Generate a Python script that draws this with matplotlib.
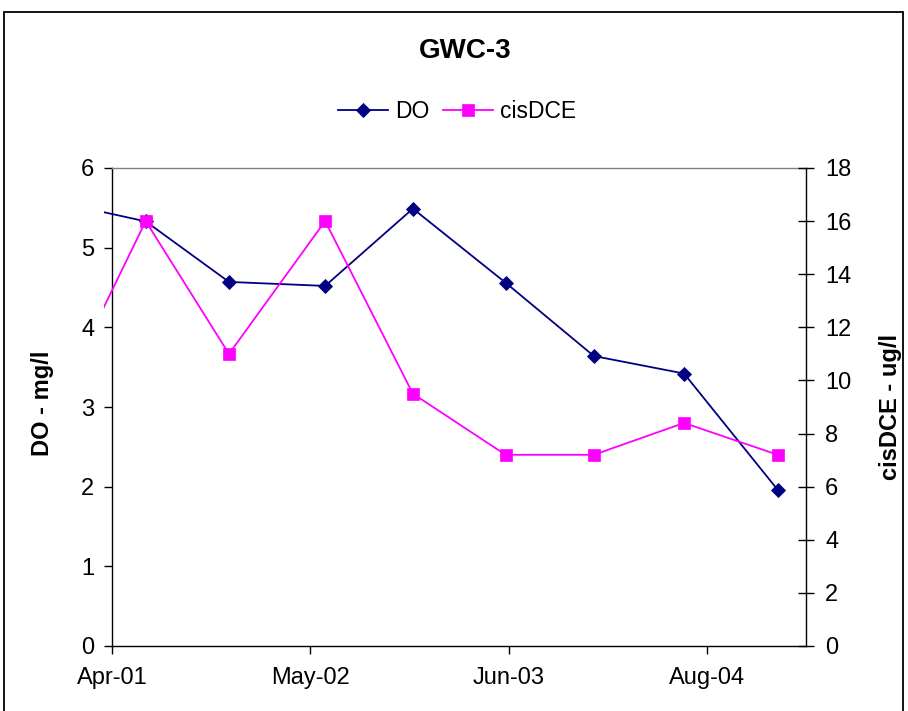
import matplotlib
matplotlib.use("Agg")
import matplotlib.pyplot as plt
import matplotlib.dates as mdates
from matplotlib.transforms import Bbox, TransformedBbox
from matplotlib.patches import Rectangle
from datetime import datetime

plt.rcParams['font.family'] = ['Liberation Sans', 'DejaVu Sans']

# ---- data ----
dates = ["2000-12-10", "2001-06-26", "2001-12-11", "2002-06-23", "2002-12-17",
         "2003-06-22", "2003-12-17", "2004-06-16", "2004-12-22"]
do_vals = [5.60, 5.33, 4.57, 4.52, 5.49, 4.56, 3.64, 3.42, 1.96]
cis_vals = [8.4, 16.0, 11.0, 16.0, 9.5, 7.2, 7.2, 8.4, 7.2]

x_min, x_max = "2001-04-19", "2005-02-17"
x_ticks = ["2001-04-19", "2002-05-24", "2003-06-28", "2004-08-01"]
y_left_ticks = [0, 1, 2, 3, 4, 5, 6]
y_right_ticks = [0, 2, 4, 6, 8, 10, 12, 14, 16, 18]

title = "GWC-3"
left_label = "DO - mg/l"
right_label = "cisDCE - ug/l"

to_dt = lambda s: datetime.strptime(s, "%Y-%m-%d")
xd = [to_dt(d) for d in dates]

W, H = 908, 711
fig = plt.figure(figsize=(W / 100, H / 100), dpi=100)
ax = fig.add_axes([112 / W, 1 - 646 / H, (806 - 112) / W, (646 - 168) / H])
ax2 = ax.twinx()

clip = TransformedBbox(Bbox.from_extents(-0.011, -0.01, 1.0, 1.01), ax.transAxes)

l1, = ax.plot(xd, do_vals, color='#000080', lw=1.3, marker='D', markersize=7.2,
              markeredgewidth=0.6, markerfacecolor='#000080', markeredgecolor='#000080',
              label='DO')
l1.set_clip_box(clip)
l2, = ax2.plot(xd, cis_vals, color='#FF00FF', lw=1.3, marker='s', markersize=8.2,
               markeredgewidth=0.5, markerfacecolor='#FF00FF', markeredgecolor='#FF00FF',
               label='cisDCE')
l2.set_clip_box(TransformedBbox(Bbox.from_extents(-0.011, -0.01, 1.0, 1.01), ax2.transAxes))

ax.set_xlim(to_dt(x_min), to_dt(x_max))
ax.set_xticks([to_dt(t) for t in x_ticks])
ax.xaxis.set_major_formatter(mdates.DateFormatter('%b-%y'))
ax.set_ylim(0, 6)
ax.set_yticks(y_left_ticks)
ax2.set_ylim(0, 18)
ax2.set_yticks(y_right_ticks)

for a in (ax, ax2):
    for s in a.spines.values():
        s.set_linewidth(1.0)
ax.spines['top'].set_color('#808080')
ax.spines['right'].set_visible(False)
ax2.spines['top'].set_visible(False)
ax2.spines['left'].set_visible(False)
ax2.spines['bottom'].set_visible(False)
ax2.spines['right'].set_color('black')

ax.tick_params(axis='y', direction='out', length=5.8, width=1, pad=7, labelsize=17)
ax.tick_params(axis='x', direction='out', length=5.8, width=1, pad=9.5, labelsize=17)
ax2.tick_params(axis='y', direction='inout', length=11.5, width=1, pad=8, labelsize=17)

ax.set_ylabel(left_label, fontsize=17, fontweight='bold')
ax.yaxis.set_label_coords((54 - 112) / 694, 0.508)
ax2.set_ylabel(right_label, fontsize=17, fontweight='bold')
ax2.yaxis.set_label_coords((879 - 112) / 694, 0.5)

fig.text(465 / W, 1 - 58.3 / H, title, ha='center', va='baseline',
         fontsize=20, fontweight='bold')

fig.legend(handles=[l1, l2], loc='center', bbox_to_anchor=(457 / W, 1 - 112 / H),
           ncol=2, frameon=False, fontsize=16.5, handlelength=2.2,
           handletextpad=0.3, columnspacing=0.6, numpoints=1)

fig.patches.append(Rectangle((4 / W, -0.05), (903 - 4) / W, 1 - 12 / H + 0.05,
                             transform=fig.transFigure, fill=False,
                             edgecolor='black', linewidth=1.3))

fig.savefig("out.png", dpi=100)
